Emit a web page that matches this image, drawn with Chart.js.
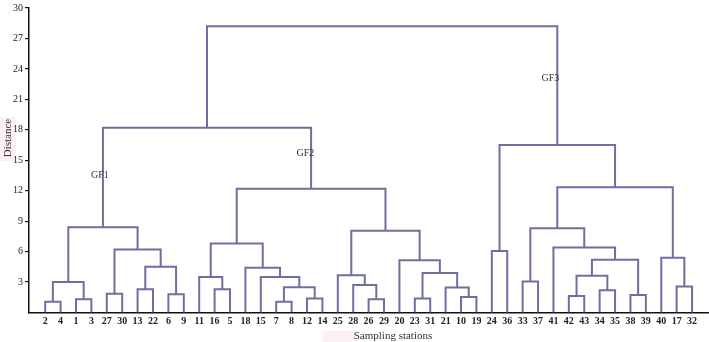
<!DOCTYPE html>
<html>
<head>
<meta charset="utf-8">
<script src="https://cdn.jsdelivr.net/npm/chart.js@4.4.1/dist/chart.umd.min.js"></script>
<style>
  html, body { margin: 0; padding: 0; background: #fff; }
  #wrap { width: 709px; height: 342px; position: relative; }
</style>
</head>
<body>
<div id="wrap"><canvas id="dendro"></canvas></div>
<script>
  // leaf order along the x axis
  const stations = [2, 4, 1, 3, 27, 30, 13, 22, 6, 9, 11, 16, 5, 18, 15, 7, 8, 12, 14,
    25, 28, 26, 29, 20, 23, 31, 21, 10, 19, 24, 36, 33, 37, 41, 42, 43, 34, 35, 38, 39, 40, 17, 32];

  // merges: [left, right, distance]; a number is a station, "#k" is merge k
  const merges = [
    [2, 4, 1.05], [1, 3, 1.3], ["#0", "#1", 3.0],
    [27, 30, 1.85], [13, 22, 2.3], [6, 9, 1.8], ["#4", "#5", 4.5], ["#3", "#6", 6.2],
    ["#2", "#7", 8.4],
    [16, 5, 2.3], [11, "#9", 3.5], [7, 8, 1.05], [12, 14, 1.37], ["#11", "#12", 2.5],
    [15, "#13", 3.5], [18, "#14", 4.4], ["#10", "#15", 6.8],
    [26, 29, 1.3], [28, "#17", 2.7], [25, "#18", 3.66],
    [23, 31, 1.37], [10, 19, 1.53], [21, "#21", 2.47], ["#20", "#22", 3.9], [20, "#23", 5.15],
    ["#19", "#24", 8.05], ["#16", "#25", 12.2],
    ["#8", "#26", 18.2],
    [24, 36, 6.05], [33, 37, 3.05], [42, 43, 1.63], [34, 35, 2.2], ["#30", "#31", 3.63],
    [38, 39, 1.72], ["#32", "#33", 5.2], [41, "#34", 6.4], ["#29", "#35", 8.3],
    [17, 32, 2.57], [40, "#37", 5.4], ["#36", "#38", 12.35], ["#28", "#39", 16.5],
    ["#27", "#40", 28.2]
  ];

  const yTicks = [3, 6, 9, 12, 15, 18, 21, 24, 27, 30];

  // group labels: [text, x (leaf index), y (distance)]
  const groupLabels = [["GF1", 3.55, 13.5], ["GF2", 16.9, 15.65], ["GF3", 32.8, 23.05]];

  const lineColor = "#6d6f9f";
  const serif = "'Liberation Serif', 'DejaVu Serif', serif";

  // position of each node: x = leaf index or midpoint of children, y = height
  const nodes = [];
  function pos(ref) {
    if (typeof ref === "number") return { x: stations.indexOf(ref), y: 0 };
    return nodes[parseInt(ref.slice(1), 10)];
  }

  const datasets = [];
  merges.forEach(([l, r, h]) => {
    const a = pos(l);
    const b = pos(r);
    nodes.push({ x: (a.x + b.x) / 2, y: h });
    datasets.push({
      data: [{ x: a.x, y: a.y }, { x: a.x, y: h }, { x: b.x, y: h }, { x: b.x, y: b.y }],
      borderColor: lineColor,
      borderWidth: 2,
      pointRadius: 0,
      tension: 0,
      fill: false,
    });
  });

  const extras = {
    id: "extras",
    beforeDraw(chart) {
      const { ctx } = chart;
      ctx.save();
      ctx.fillStyle = "#fcf1f2";
      ctx.fillRect(0, 117, 16, 44);
      ctx.fillRect(323, 331, 34, 11);
      ctx.restore();
    },
    afterDraw(chart) {
      const { ctx, scales } = chart;
      ctx.save();
      ctx.fillStyle = "#333";
      ctx.font = "11px " + serif;
      ctx.textAlign = "center";
      ctx.textBaseline = "middle";
      ctx.fillText("Sampling stations", 393, 336);
      ctx.translate(8, 138);
      ctx.rotate(-Math.PI / 2);
      ctx.fillText("Distance", 0, 0);
      ctx.restore();

      ctx.save();
      ctx.fillStyle = "#333";
      ctx.font = "10px " + serif;
      ctx.textAlign = "center";
      ctx.textBaseline = "middle";
      groupLabels.forEach(([t, x, y]) => {
        ctx.fillText(t, scales.x.getPixelForValue(x), scales.y.getPixelForValue(y));
      });
      ctx.restore();
    },
  };

  new Chart(document.getElementById("dendro"), {
    type: "line",
    data: { datasets },
    options: {
      responsive: true,
      maintainAspectRatio: false,
      animation: false,
      layout: { padding: { top: 3, right: 0, bottom: 0, left: 0 } },
      plugins: { legend: { display: false }, tooltip: { enabled: false } },
      scales: {
        x: {
          type: "linear",
          min: -1.05,
          max: 43.1,
          afterFit(scale) { scale.height = 29.5; },
          afterBuildTicks(scale) {
            scale.ticks = stations.map((s, i) => ({ value: i }));
          },
          grid: { display: false },
          border: { display: true, color: "#111", width: 1.5 },
          ticks: {
            autoSkip: false,
            maxRotation: 0,
            padding: -5,
            color: "#222",
            font: { family: serif, size: 10, weight: "bold" },
            callback: (v) => stations[v],
          },
        },
        y: {
          min: 0,
          max: 30,
          afterFit(scale) { scale.width = 29; },
          afterBuildTicks(scale) {
            scale.ticks = yTicks.map((v) => ({ value: v }));
          },
          grid: { display: true, drawOnChartArea: false, drawTicks: true, tickLength: 4, color: "#111", lineWidth: 1.2 },
          border: { display: true, color: "#111", width: 1.5 },
          ticks: {
            padding: 2,
            color: "#222",
            font: { family: serif, size: 10 },
          },
        },
      },
    },
    plugins: [extras],
  });
</script>
</body>
</html>
